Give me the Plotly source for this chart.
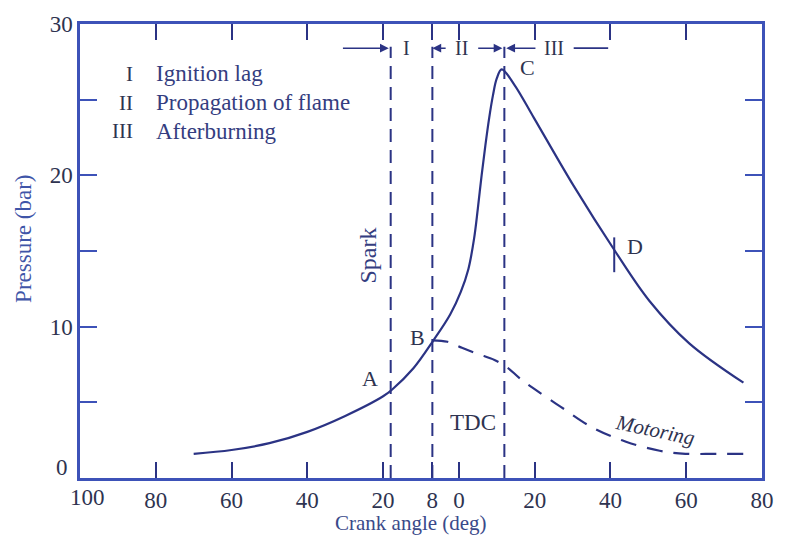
import plotly.graph_objects as go

# ---- data ----
fired_angle = [-70, -60, -50, -40, -30, -20, -17.6, -12, -6.7, -2.3, 0.5, 2.5, 4.0, 5.0, 6.0, 7.0, 8.0, 9.0, 10.0, 11.3, 14.6, 19.8, 30.3, 41.2, 50.3, 60.8, 75.1]
fired_pressure = [1.6, 1.85, 2.3, 3.05, 4.1, 5.4, 5.85, 7.25, 9.1, 10.8, 12.3, 13.8, 15.8, 17.8, 20.0, 22.0, 23.8, 25.3, 26.4, 27.0, 26.0, 23.8, 19.3, 15.0, 11.7, 8.9, 6.3]

motor_angle = [-7, -3, 0.8, 5, 9.4, 12.8, 16, 19.8, 26.9, 35.5, 44.1, 53, 59.8, 68, 77.8]
motor_pressure = [9.1, 9.0, 8.6, 8.2, 7.8, 7.3, 6.6, 5.9, 4.7, 3.3, 2.4, 1.8, 1.6, 1.6, 1.6]

spark_angle = -18
lag_end_angle = -7
peak_angle = 12

x_tickvals = [-100, -80, -60, -40, -20, -7, 0, 20, 40, 60, 80]
x_ticktext = ["", "80", "60", "40", "20", "8", "0", "20", "40", "60", "80"]
y_tickvals = [0, 5, 10, 15, 20, 25, 30]
y_ticktext = ["", "", "10", "", "20", "", "30"]

legend_numerals = ["I", "II", "III"]
legend_texts = ["Ignition lag", "Propagation of flame", "Afterburning"]

# ---- styling ----
INK = "#2b3384"
AXIS = "#3d52b8"
TXT = "#343d80"
NUM = "#2e3350"
FONT = "Liberation Serif"

fig = go.Figure()

fig.add_trace(go.Scatter(x=fired_angle, y=fired_pressure, mode="lines",
                         line=dict(color=INK, width=2.2, shape="spline", smoothing=1.0),
                         hoverinfo="skip", showlegend=False))
fig.add_trace(go.Scatter(x=motor_angle, y=motor_pressure, mode="lines",
                         line=dict(color=INK, width=2.2, dash="16px,11px", shape="spline", smoothing=1.0),
                         hoverinfo="skip", showlegend=False))

# dashed vertical lines
for xv in [spark_angle, lag_end_angle, peak_angle]:
    fig.add_shape(type="line", x0=xv, x1=xv, y0=0, y1=28.5, xref="x", yref="y",
                  line=dict(color=INK, width=2, dash="13px,8px"))

# D marker tick
fig.add_shape(type="line", x0=41, x1=41, y0=13.6, y1=15.9, xref="x", yref="y",
              line=dict(color=INK, width=2))

ytop = 28.4
arrow_kw = dict(showarrow=True, axref="x", ayref="y", xref="x", yref="y",
                arrowhead=2, arrowsize=1.1, arrowwidth=1.6, arrowcolor=INK, text="")
fig.add_annotation(x=-18.5, y=ytop, ax=-31, ay=ytop, **arrow_kw)
fig.add_annotation(x=-7, y=ytop, ax=-3.1, ay=ytop, **arrow_kw)
fig.add_annotation(x=11.5, y=ytop, ax=4.7, ay=ytop, **arrow_kw)
fig.add_annotation(x=12.5, y=ytop, ax=20.6, ay=ytop, **arrow_kw)
fig.add_shape(type="line", x0=30.3, x1=39.4, y0=ytop, y1=ytop, xref="x", yref="y",
              line=dict(color=INK, width=1.8))

def txt(x, y, s, size=20, color=TXT, xanchor="center", angle=0, italic=False, xref="x", yref="y"):
    fig.add_annotation(x=x, y=y, xref=xref, yref=yref, text=s, showarrow=False,
                       xanchor=xanchor, yanchor="middle", textangle=angle,
                       font=dict(family=FONT, size=size, color=color,
                                 style="italic" if italic else "normal"))

txt(-13.8, ytop, "I", 20, NUM)
txt(0.8, ytop, "II", 20, NUM)
txt(25, ytop, "III", 20, NUM)

rows_y = [26.7, 24.8, 22.9]
for n, t, yv in zip(legend_numerals, legend_texts, rows_y):
    txt(-85.6, yv, n, 21, NUM, xanchor="right")
    txt(-80.4, yv, t, 23, TXT, xanchor="left")

txt(-23.5, 6.6, "A", 22, NUM)
txt(-11, 9.3, "B", 22, NUM)
txt(18, 27.1, "C", 22, NUM)
txt(46.5, 15.3, "D", 22, NUM)
txt(3.7, 3.7, "TDC", 23, NUM)
txt(-24, 14.7, "Spark", 24, TXT, angle=-90)
txt(51.7, 3.2, "Motoring", 21, NUM, angle=12, italic=True)

# special tick labels placed like the reference
txt(-97.9, -0.042, "100", 23, NUM, yref="paper")
txt(-0.026, 0.7, "0", 23, NUM, xref="paper")

# axis titles
txt(-0.084, 0.526, "Pressure (bar)", 23, "#3f55a8", angle=-90, xref="paper", yref="paper")
txt(0.485, -0.1, "Crank angle (deg)", 21, "#3a4a8a", xref="paper", yref="paper")

fig.update_xaxes(range=[-100, 80], tickmode="array", tickvals=x_tickvals, ticktext=x_ticktext,
                 ticks="inside", ticklen=16, tickwidth=2, tickcolor=INK,
                 showline=True, linecolor=AXIS, linewidth=2.5, mirror="ticks",
                 showgrid=False, zeroline=False,
                 tickfont=dict(family=FONT, size=23, color=NUM))
fig.update_yaxes(range=[0, 30], tickmode="array", tickvals=y_tickvals, ticktext=y_ticktext,
                 ticks="inside", ticklen=17, tickwidth=2, tickcolor=AXIS,
                 showline=True, linecolor=AXIS, linewidth=2.5, mirror="ticks",
                 showgrid=False, zeroline=False,
                 tickfont=dict(family=FONT, size=23, color=NUM))

fig.update_layout(width=786, height=538, margin=dict(l=80, r=18, t=22, b=60),
                  paper_bgcolor="white", plot_bgcolor="white", showlegend=False)

fig.write_html("out.html")
